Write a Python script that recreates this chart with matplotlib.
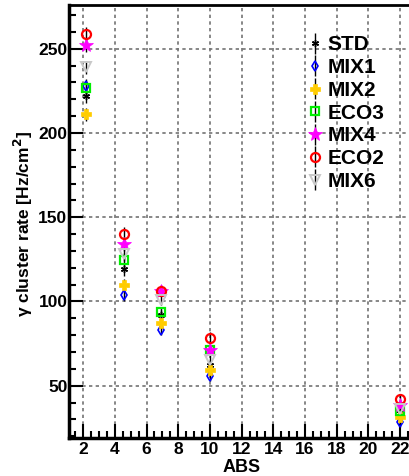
import matplotlib
matplotlib.use('Agg')
import matplotlib.pyplot as plt
from matplotlib.ticker import MultipleLocator

plt.rcParams['font.family'] = ['Liberation Sans', 'DejaVu Sans']

# absorber settings
abs_vals = [2.2, 4.6, 6.9, 10, 22]

# gamma cluster rate per gas mixture [Hz/cm2]
std = [222, 119, 92, 62, 34]
mix1 = [228, 104, 83, 56, 28.6]
mix2 = [211, 109.5, 87, 59.5, 31.5]
eco3 = [227, 124.5, 94, 71, 35]
mix4 = [252, 134, 106, 71, 38.6]
eco2 = [259, 140, 106.5, 78.6, 42]
mix6 = [239, 128, 101, 65.5, 36]
err = [4, 4, 3, 3, 3]

series = [
    ('STD', std, dict(marker=(6, 2, 0), color='black', mfc='black', ms=5, mew=1.0)),
    ('MIX1', mix1, dict(marker='d', color='#0000FF', mfc='none', ms=5.5, mew=1.2)),
    ('MIX2', mix2, dict(marker='P', color='#FFCC00', mfc='#FFCC00', ms=7.5, mew=0.5)),
    ('ECO3', eco3, dict(marker='s', color='#00EE00', mfc='none', ms=6, mew=1.6)),
    ('MIX4', mix4, dict(marker='*', color='#FF00FF', mfc='#FF00FF', ms=10, mew=0.5)),
    ('ECO2', eco2, dict(marker='o', color='#FF0000', mfc='none', ms=6.5, mew=1.6)),
    ('MIX6', mix6, dict(marker='v', color='#C8C8C8', mfc='none', ms=6.5, mew=1.4)),
]

fig = plt.figure(figsize=(4.10, 4.76), dpi=100)
ax = fig.add_axes([0.168, 0.080, 0.842, 0.9095])

for name, vals, st in series:
    ax.errorbar(abs_vals, vals, yerr=err, linestyle='none', ecolor='black',
                elinewidth=1.0, capsize=0, label=name, **st)

ax.set_xlim(1.1, 22.88)
ax.set_ylim(19, 276)

ax.xaxis.set_major_locator(MultipleLocator(2))
ax.xaxis.set_minor_locator(MultipleLocator(0.5))
ax.yaxis.set_major_locator(MultipleLocator(50))
ax.yaxis.set_minor_locator(MultipleLocator(10))
ax.tick_params(which='both', direction='in', top=False, right=False, width=1.5)
ax.tick_params(which='major', length=10, labelsize=12.5)
ax.tick_params(axis='y', which='major', pad=1)
ax.tick_params(axis='x', which='major', pad=3)
ax.tick_params(which='minor', length=5)
for lab in ax.get_xticklabels() + ax.get_yticklabels():
    lab.set_fontweight('bold')

ax.grid(True, which='major', color='0.45', linestyle=(0, (2, 2)), linewidth=1.2)
ax.set_axisbelow(True)

for side in ['left', 'bottom']:
    ax.spines[side].set_linewidth(2.5)
ax.spines['top'].set_linewidth(2.0)
ax.spines['right'].set_visible(False)

ax.set_xlabel('ABS', fontsize=13, fontweight='bold', va='center')
ax.xaxis.set_label_coords(0.5, -0.068)
ax.set_ylabel('γ cluster rate [Hz/cm$^\\mathbf{2}$]', fontsize=12.5, fontweight='bold',
              va='center')
ax.yaxis.set_label_coords(-0.131, 0.495)

leg = ax.legend(loc='upper left', bbox_to_anchor=(0.661, 0.949), frameon=False,
                prop={'weight': 'bold', 'size': 15}, handletextpad=0.15,
                labelspacing=0.18, handlelength=0.9, borderaxespad=0)

fig.savefig('out.png', dpi=100)
